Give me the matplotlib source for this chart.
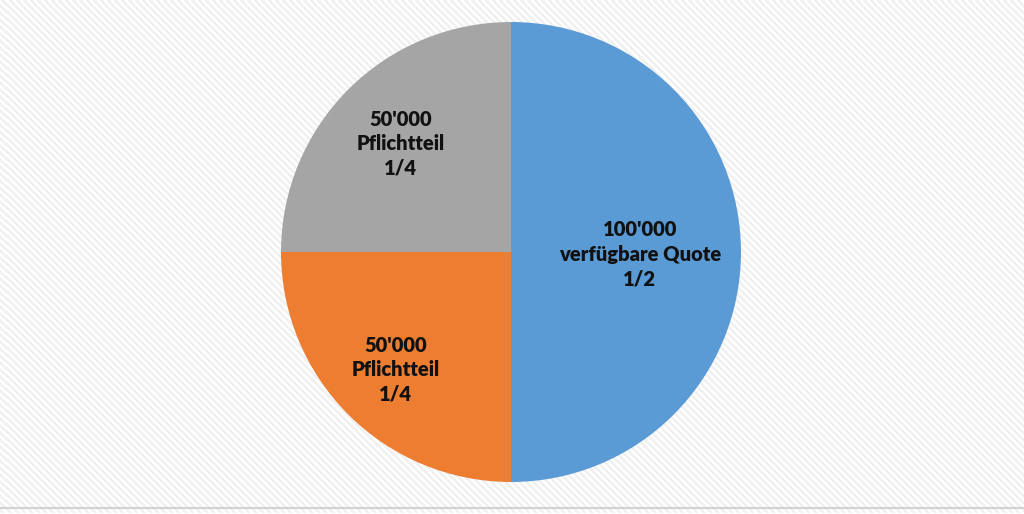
import numpy as np
import matplotlib
matplotlib.use("Agg")
import matplotlib.pyplot as plt

# Erbteil split
amounts = [100000, 50000, 50000]
names = ["verfügbare Quote", "Pflichtteil", "Pflichtteil"]
fractions = ["1/2", "1/4", "1/4"]
COLORS = ["#5B9BD5", "#ED7D31", "#A5A5A5"]

W, H = 1024, 514
fig = plt.figure(figsize=(W / 100, H / 100), dpi=100)

# striped background
bg = fig.add_axes([0, 0, 1, 1])
yy, xx = np.mgrid[0:H, 0:W]
stripes = ((xx - yy) % 7) < 3.5
img = np.where(stripes, 0.945, 1.0)
bg.imshow(img, cmap="gray", vmin=0, vmax=1, aspect="auto", interpolation="nearest")
bg.axhline(H - 6, color="#d2d2d2", linewidth=1.5)
bg.set_xlim(0, W)
bg.set_ylim(H, 0)
bg.axis("off")

# pie: centre (511, 252) px, radius 230 px
cx, cy, r = 511, 252, 230
ax = fig.add_axes([(cx - r) / W, (H - cy - r) / H, 2 * r / W, 2 * r / H])
wedges, _ = ax.pie(amounts, colors=COLORS, startangle=90, counterclock=False,
                   wedgeprops=dict(linewidth=0))
ax.set_xlim(-1, 1)
ax.set_ylim(-1, 1)

label_r = [0.56, 0.71, 0.68]
for w, amt, name, frac, lr in zip(wedges, amounts, names, fractions, label_r):
    ang = np.deg2rad((w.theta1 + w.theta2) / 2)
    txt = f"{amt:,}".replace(",", "'") + f"\n{name}\n{frac}"
    ax.text(lr * np.cos(ang), lr * np.sin(ang) - 0.01, txt, ha="center", va="center",
            fontsize=14.5, fontweight="heavy", family="Lato", color="#111111",
            linespacing=1.35)

fig.savefig("out.png", dpi=100)
